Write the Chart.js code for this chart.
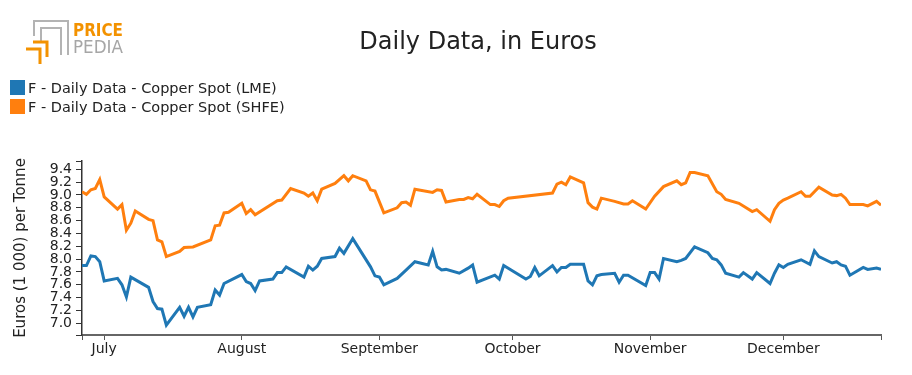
<!DOCTYPE html>
<html>
<head>
<meta charset="utf-8">
<script src="https://cdn.jsdelivr.net/npm/chart.js@4.4.1/dist/chart.umd.min.js"></script>
<style>
    body { margin: 0; background: #fff; font-family: "DejaVu Sans", sans-serif; }
    .wrap { position: relative; width: 912px; height: 375px; overflow: hidden; }
    #priceChart { position: absolute; left: 0; top: 0; }
    .logo { position: absolute; left: 0; top: 0; }
    .title { position: absolute; left: 278px; width: 400px; top: 27px; text-align: center; font-size: 24px; color: #222; line-height: 28px; }
    .legend { position: absolute; left: 10px; top: 78px; font-size: 14.5px; color: #222; }
    .legend-row { display: flex; align-items: center; height: 19px; }
    .legend-box { width: 15px; height: 15px; margin-right: 3px; }
</style>
</head>
<body>
<div class="wrap">
    <canvas id="priceChart" width="912" height="375"></canvas>
    <svg class="logo" width="130" height="70">
        <path d="M34 36 V21 H68 V55" fill="none" stroke="#b3b3b3" stroke-width="2"/>
        <path d="M41 41 V28 H61 V55" fill="none" stroke="#b3b3b3" stroke-width="2"/>
        <path d="M26 49 H40 V64" fill="none" stroke="#f39200" stroke-width="3"/>
        <path d="M33 42 H47 V57" fill="none" stroke="#f39200" stroke-width="3"/>
        <text x="73" y="36" font-size="17" font-weight="bold" fill="#f39200" textLength="50" lengthAdjust="spacingAndGlyphs">PRICE</text>
        <text x="73" y="53" font-size="17" fill="#a6a6a6" textLength="50" lengthAdjust="spacingAndGlyphs">PEDIA</text>
    </svg>
    <div class="title">Daily Data, in Euros</div>
    <div class="legend" id="legend"></div>
</div>
<script>
// Days counted from 1 July
const lmeDays = [-5, -4, -3, -2, -1, 0, 3, 4, 5, 6, 10, 11, 12, 13, 14, 17, 18, 19, 20, 21, 24, 25, 26, 27,
    31, 32, 33, 34, 35, 38, 39, 40, 41, 45, 46, 47, 48, 49, 52, 53, 54, 56, 60, 61, 62, 63, 66, 68, 70,
    73, 74, 75, 76, 77, 80, 82, 83, 84, 88, 89, 90, 95, 96, 97, 98, 101, 102, 103, 104, 105, 108, 109,
    110, 111, 112, 115, 116, 117, 118, 122, 123, 124, 125, 126, 129, 130, 131, 133, 136, 137, 138, 139,
    140, 143, 144, 146, 147, 150, 151, 152, 153, 154, 157, 159, 160, 161, 164, 165, 166, 167, 168, 171,
    172, 174, 175];
const lmeValues = [7.90, 7.90, 8.05, 8.04, 7.96, 7.66, 7.70, 7.60, 7.41, 7.72, 7.56, 7.34, 7.23, 7.22, 6.97,
    7.25, 7.11, 7.25, 7.10, 7.25, 7.29, 7.52, 7.44, 7.62, 7.76, 7.65, 7.62, 7.51, 7.66, 7.69, 7.79, 7.79,
    7.88, 7.72, 7.89, 7.83, 7.89, 8.01, 8.04, 8.17, 8.09, 8.32, 7.88, 7.74, 7.72, 7.60, 7.70, 7.83, 7.96,
    7.91, 8.12, 7.88, 7.83, 7.84, 7.78, 7.86, 7.91, 7.64, 7.75, 7.69, 7.90, 7.69, 7.73, 7.87, 7.74, 7.90,
    7.80, 7.87, 7.87, 7.92, 7.92, 7.66, 7.60, 7.74, 7.76, 7.78, 7.64, 7.75, 7.75, 7.59, 7.79, 7.79, 7.69,
    8.01, 7.96, 7.98, 8.01, 8.19, 8.10, 8.01, 7.99, 7.91, 7.78, 7.72, 7.79, 7.69, 7.79, 7.62, 7.78, 7.91,
    7.87, 7.92, 7.99, 7.92, 8.13, 8.04, 7.94, 7.96, 7.91, 7.89, 7.75, 7.87, 7.84, 7.86, 7.84];

const shfeDays = [-5, -4, -3, -2, -1, 0, 3, 4, 5, 6, 7, 10, 11, 12, 13, 14, 17, 18, 20, 24, 25, 26, 27, 28,
    31, 32, 33, 34, 39, 40, 42, 45, 46, 47, 48, 49, 52, 54, 55, 56, 59, 60, 61, 63, 66, 67, 68, 69, 70,
    74, 75, 76, 77, 80, 81, 82, 83, 84, 87, 88, 89, 90, 91, 101, 102, 103, 104, 105, 108, 109, 110, 111,
    112, 115, 117, 118, 119, 122, 124, 126, 129, 130, 131, 132, 133, 136, 138, 139, 140, 143, 146, 147,
    150, 151, 152, 153, 154, 157, 158, 159, 161, 164, 165, 166, 167, 168, 171, 172, 174, 175];
const shfeValues = [9.05, 9.01, 9.08, 9.10, 9.24, 8.97, 8.78, 8.85, 8.45, 8.56, 8.75, 8.62, 8.60, 8.30, 8.27,
    8.04, 8.12, 8.18, 8.19, 8.30, 8.52, 8.53, 8.72, 8.73, 8.87, 8.71, 8.77, 8.69, 8.91, 8.92, 9.10, 9.03,
    8.98, 9.03, 8.91, 9.09, 9.18, 9.30, 9.22, 9.30, 9.22, 9.08, 9.06, 8.72, 8.80, 8.88, 8.89, 8.84, 9.09,
    9.04, 9.08, 9.07, 8.89, 8.93, 8.93, 8.96, 8.94, 9.01, 8.85, 8.85, 8.82, 8.91, 8.95, 9.03, 9.17, 9.20,
    9.16, 9.28, 9.19, 8.88, 8.81, 8.78, 8.95, 8.90, 8.86, 8.86, 8.91, 8.78, 8.98, 9.13, 9.22, 9.16, 9.19,
    9.35, 9.35, 9.30, 9.05, 9.01, 8.93, 8.87, 8.74, 8.77, 8.59, 8.77, 8.87, 8.92, 8.95, 9.05, 8.98, 8.98,
    9.12, 9.00, 8.99, 9.01, 8.95, 8.85, 8.85, 8.83, 8.90, 8.84];

// Axis ticks
const monthDays = [0, 31, 62, 92, 123, 153];
const monthLabels = ['July', 'August', 'September', 'October', 'November', 'December'];
const yTickValues = [7.0, 7.2, 7.4, 7.6, 7.8, 8.0, 8.2, 8.4, 8.6, 8.8, 9.0, 9.2, 9.4];

const seriesNames = ['F - Daily Data - Copper Spot (LME)', 'F - Daily Data - Copper Spot (SHFE)'];
const seriesColors = ['#1f77b4', '#ff7f0e'];

document.addEventListener('DOMContentLoaded', function() {
    const xMin = -5, xMax = 175;
    const yMin = 6.818, yMax = 9.529;

    // Custom HTML legend
    const legend = document.getElementById('legend');
    seriesNames.forEach((name, i) => {
        const row = document.createElement('div');
        row.className = 'legend-row';
        const box = document.createElement('span');
        box.className = 'legend-box';
        box.style.background = seriesColors[i];
        const label = document.createElement('span');
        label.textContent = name;
        row.appendChild(box);
        row.appendChild(label);
        legend.appendChild(row);
    });

    const ctx = document.getElementById('priceChart').getContext('2d');
    Chart.defaults.font.family = '"DejaVu Sans", sans-serif';
    Chart.defaults.color = '#222';

    new Chart(ctx, {
        type: 'line',
        data: {
            datasets: [
                {
                    label: seriesNames[0],
                    data: lmeDays.map((d, i) => ({ x: d, y: lmeValues[i] })),
                    borderColor: seriesColors[0],
                    borderWidth: 3,
                    pointRadius: 0,
                    tension: 0
                },
                {
                    label: seriesNames[1],
                    data: shfeDays.map((d, i) => ({ x: d, y: shfeValues[i] })),
                    borderColor: seriesColors[1],
                    borderWidth: 3,
                    pointRadius: 0,
                    tension: 0
                }
            ]
        },
        options: {
            responsive: false,
            animation: false,
            layout: {
                padding: { top: 161, right: 31, bottom: 0, left: 8.5 }
            },
            plugins: {
                legend: { display: false },
                tooltip: { enabled: false }
            },
            scales: {
                x: {
                    type: 'linear',
                    min: xMin,
                    max: xMax,
                    afterBuildTicks: function(scale) {
                        scale.ticks = [xMin].concat(monthDays, [xMax]).map(v => ({ value: v }));
                    },
                    afterFit: function(scale) {
                        scale.height = 40;
                    },
                    ticks: {
                        autoSkip: false,
                        maxRotation: 0,
                        padding: 1,
                        font: { size: 14 },
                        color: '#222',
                        callback: function(value) {
                            const idx = monthDays.indexOf(value);
                            return idx >= 0 ? monthLabels[idx] : '';
                        }
                    },
                    grid: {
                        drawOnChartArea: false,
                        tickLength: 5,
                        color: '#555'
                    },
                    border: { color: '#666', width: 2 }
                },
                y: {
                    min: yMin,
                    max: yMax,
                    afterBuildTicks: function(scale) {
                        scale.ticks = [yMin].concat(yTickValues, [yMax]).map(v => ({ value: v }));
                    },
                    afterFit: function(scale) {
                        scale.width = 73.5;
                    },
                    ticks: {
                        autoSkip: false,
                        padding: 4,
                        font: { size: 14 },
                        color: '#222',
                        callback: function(value) {
                            return yTickValues.indexOf(value) >= 0 ? value.toFixed(1) : '';
                        }
                    },
                    grid: {
                        drawOnChartArea: false,
                        tickLength: 6,
                        color: '#333'
                    },
                    border: { color: '#333', width: 1.5 },
                    title: {
                        display: true,
                        text: 'Euros (1 000) per Tonne',
                        font: { size: 15 },
                        color: '#222',
                        padding: { top: 4, bottom: 0 }
                    }
                }
            }
        }
    });
});
</script>
</body>
</html>
